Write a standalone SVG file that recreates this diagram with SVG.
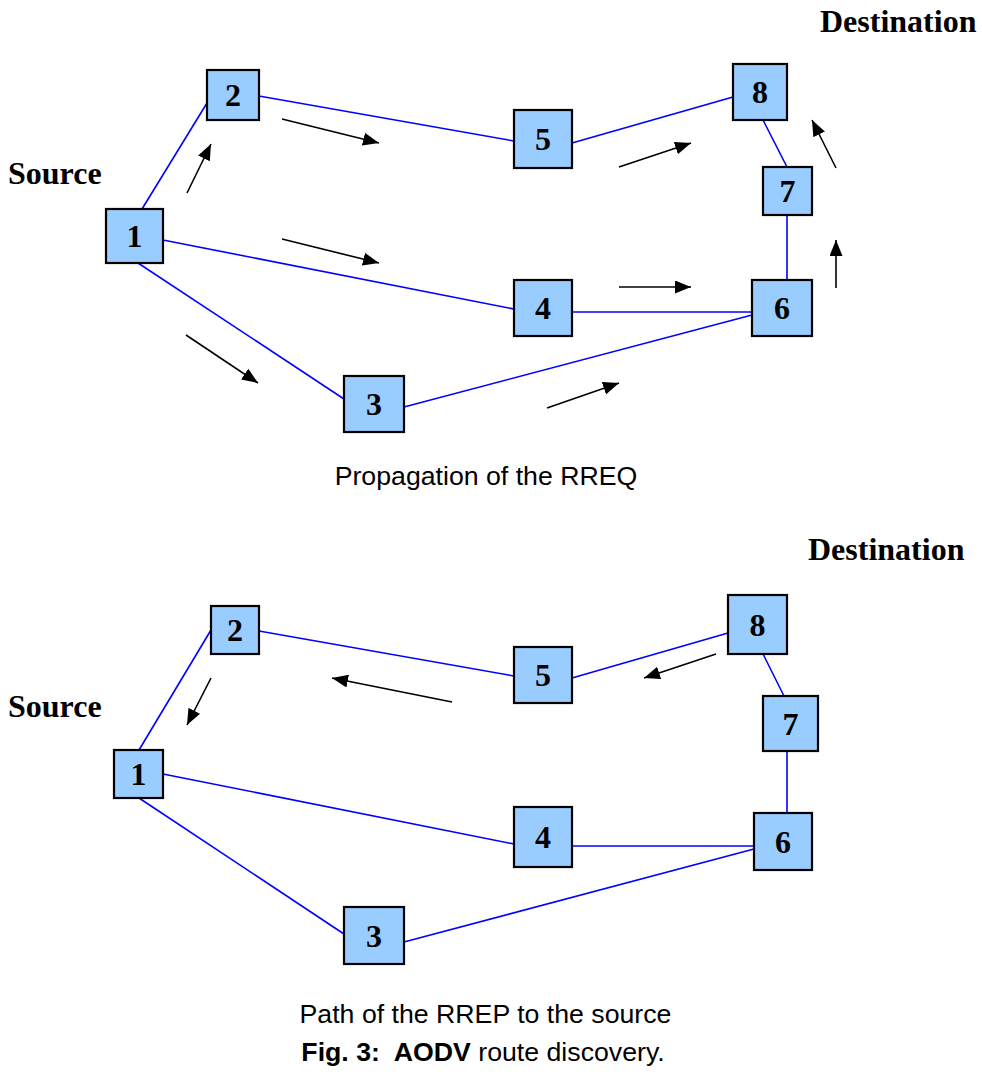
<svg xmlns="http://www.w3.org/2000/svg" width="982" height="1085" viewBox="0 0 982 1085">
  <style>
    .node rect { fill: #99CCFF; stroke: #000; stroke-width: 2.2; }
    .node text { font-family: "Liberation Serif", "Times New Roman", serif; font-weight: bold; font-size: 32px; text-anchor: middle; fill: #000; }
    .link { stroke: #0000FF; stroke-width: 1.6; fill: none; }
    .flow { stroke: #000; stroke-width: 1.6; fill: none; marker-end: url(#head); }
    .tag { font-family: "Liberation Serif", "Times New Roman", serif; font-weight: bold; font-size: 32px; fill: #000; }
    .cap { font-family: "Liberation Sans", Arial, sans-serif; font-size: 26.7px; fill: #000; text-anchor: middle; }
  </style>
  <defs>
    <marker id="head" markerUnits="userSpaceOnUse" markerWidth="17" markerHeight="14" refX="16" refY="6.5" orient="auto">
      <path d="M0,0 L16,6.5 L0,13 z" fill="#000"/>
    </marker>
  </defs>

  <rect width="982" height="1085" fill="#fff"/>

  <!-- RREQ propagation: links -->
  <g id="links-rreq">
    <line class="link" x1="142" y1="209" x2="207" y2="103"/>
    <line class="link" x1="259" y1="96" x2="514" y2="141"/>
    <line class="link" x1="572" y1="143" x2="733" y2="97"/>
    <line class="link" x1="763" y1="120" x2="787" y2="167"/>
    <line class="link" x1="787" y1="215" x2="787" y2="280"/>
    <line class="link" x1="163" y1="240" x2="514" y2="309"/>
    <line class="link" x1="572" y1="312" x2="752" y2="312"/>
    <line class="link" x1="138" y1="263" x2="344" y2="399"/>
    <line class="link" x1="404" y1="407" x2="752" y2="315"/>
  </g>

  <!-- RREQ propagation: flow arrows -->
  <g id="flow-rreq">
    <line class="flow" x1="187" y1="193" x2="211" y2="144"/>
    <line class="flow" x1="282" y1="119" x2="379" y2="143"/>
    <line class="flow" x1="282" y1="239" x2="379" y2="263"/>
    <line class="flow" x1="186" y1="335" x2="258" y2="383"/>
    <line class="flow" x1="619" y1="167" x2="691" y2="143"/>
    <line class="flow" x1="619" y1="287" x2="691" y2="287"/>
    <line class="flow" x1="547" y1="408" x2="619" y2="383"/>
    <line class="flow" x1="836" y1="288" x2="836" y2="240"/>
    <line class="flow" x1="836" y1="168" x2="812" y2="120"/>
  </g>

  <!-- RREQ propagation: nodes -->
  <g id="rreq-n1" class="node"><rect x="106" y="209" width="57" height="54"/><text x="134.5" y="247">1</text></g>
  <g id="rreq-n2" class="node"><rect x="207" y="70" width="52" height="50"/><text x="233" y="106">2</text></g>
  <g id="rreq-n3" class="node"><rect x="344" y="376" width="60" height="56"/><text x="374" y="415">3</text></g>
  <g id="rreq-n4" class="node"><rect x="514" y="280" width="58" height="56"/><text x="543" y="319">4</text></g>
  <g id="rreq-n5" class="node"><rect x="514" y="110" width="58" height="58"/><text x="543" y="150">5</text></g>
  <g id="rreq-n6" class="node"><rect x="752" y="280" width="60" height="56"/><text x="782" y="319">6</text></g>
  <g id="rreq-n7" class="node"><rect x="763" y="167" width="49" height="48"/><text x="787.5" y="202">7</text></g>
  <g id="rreq-n8" class="node"><rect x="733" y="64" width="54" height="56"/><text x="760" y="103">8</text></g>

  <text class="tag" x="820" y="32">Destination</text>
  <text class="tag" x="8" y="184">Source</text>
  <text class="cap" x="486" y="485">Propagation of the RREQ</text>

  <!-- RREP path: links -->
  <g id="links-rrep">
    <line class="link" x1="139" y1="750" x2="211" y2="630"/>
    <line class="link" x1="259" y1="631" x2="514" y2="676"/>
    <line class="link" x1="572" y1="678" x2="728" y2="633"/>
    <line class="link" x1="763" y1="654" x2="784" y2="696"/>
    <line class="link" x1="787" y1="751" x2="787" y2="813"/>
    <line class="link" x1="163" y1="774" x2="514" y2="844"/>
    <line class="link" x1="572" y1="846" x2="754" y2="846"/>
    <line class="link" x1="139" y1="798" x2="344" y2="934"/>
    <line class="link" x1="404" y1="942" x2="754" y2="849"/>
  </g>

  <!-- RREP path: flow arrows -->
  <g id="flow-rrep">
    <line class="flow" x1="211" y1="678" x2="187" y2="725"/>
    <line class="flow" x1="452" y1="702" x2="332" y2="678"/>
    <line class="flow" x1="716" y1="654" x2="644" y2="678"/>
  </g>

  <!-- RREP path: nodes -->
  <g id="rrep-n1" class="node"><rect x="114" y="750" width="49" height="48"/><text x="138.5" y="785">1</text></g>
  <g id="rrep-n2" class="node"><rect x="211" y="606" width="48" height="48"/><text x="235" y="641">2</text></g>
  <g id="rrep-n3" class="node"><rect x="344" y="907" width="60" height="57"/><text x="374" y="947">3</text></g>
  <g id="rrep-n4" class="node"><rect x="514" y="807" width="58" height="60"/><text x="543" y="848">4</text></g>
  <g id="rrep-n5" class="node"><rect x="514" y="647" width="58" height="56"/><text x="543" y="686">5</text></g>
  <g id="rrep-n6" class="node"><rect x="754" y="813" width="58" height="57"/><text x="783" y="853">6</text></g>
  <g id="rrep-n7" class="node"><rect x="763" y="696" width="55" height="55"/><text x="790.5" y="735">7</text></g>
  <g id="rrep-n8" class="node"><rect x="728" y="595" width="59" height="59"/><text x="757.5" y="636">8</text></g>

  <text class="tag" x="808" y="560">Destination</text>
  <text class="tag" x="8" y="717">Source</text>
  <text class="cap" x="485.5" y="1023">Path of the RREP to the source</text>

  <text class="cap" x="483" y="1061" style="white-space:pre"><tspan font-weight="bold">Fig. 3:  AODV</tspan> route discovery.</text>
</svg>
